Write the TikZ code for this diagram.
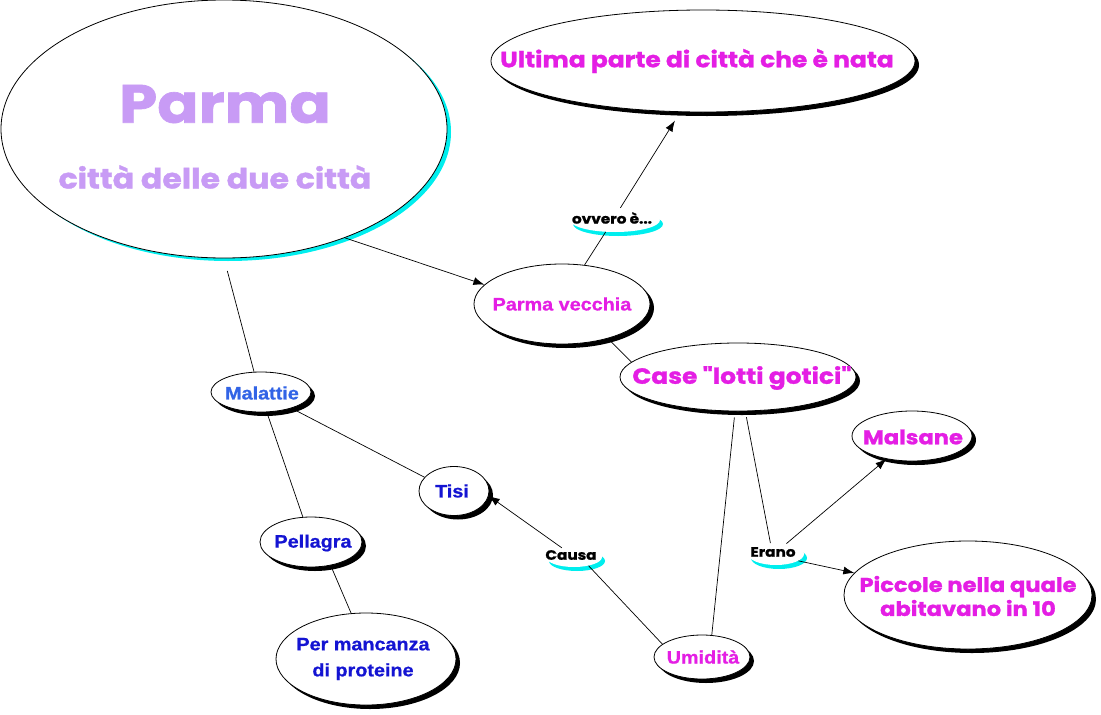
\documentclass[tikz,border=0pt]{standalone}
\usepackage{fontspec}
\setmainfont{Liberation Sans}
\newfontfamily\arialw{Liberation Sans}[FakeStretch=1.1,FakeBold=0.8]
\newfontfamily\funfont{Poppins}[FakeStretch=1.13,FakeBold=1.2]
\usetikzlibrary{shapes.geometric,arrows.meta,shadows}
\definecolor{magC}{RGB}{228,30,228}
\definecolor{lavC}{RGB}{200,155,245}
\definecolor{bluC}{RGB}{50,100,230}
\definecolor{dbluC}{RGB}{20,20,210}
\definecolor{cyC}{RGB}{0,238,238}
\tikzset{
  bub/.style={ellipse, draw=black, line width=0.8pt, fill=white, inner sep=0pt,
    drop shadow={shadow xshift=4pt,shadow yshift=-4pt,fill=black,opacity=1}},
  bigbub/.style={ellipse, draw=black, line width=0.8pt, fill=white, inner sep=0pt,
    drop shadow={shadow xshift=4pt,shadow yshift=-3pt,fill=cyC,opacity=1}},
  lnk/.style={ellipse, fill=white, inner sep=0pt,
    drop shadow={shadow xshift=3pt,shadow yshift=-4pt,fill=cyC,opacity=1}},
  funm/.style={text=magC, font=\funfont\bfseries\fontsize{22}{24}\selectfont, align=center},
  funs/.style={text=magC, font=\funfont\bfseries\fontsize{20}{24}\selectfont, align=center},
  arm/.style={text=magC, font=\arialw\bfseries\fontsize{18}{24}\selectfont, align=center},
  arb/.style={text=dbluC, font=\arialw\bfseries\fontsize{18}{26}\selectfont, align=center},
  lnktxt/.style={text=black, font=\funfont\bfseries\fontsize{13.5}{14}\selectfont},
  con/.style={line width=0.7pt},
  arr/.style={line width=0.7pt, -{Latex[length=11pt,width=8pt]}},
}
\begin{document}
\begin{tikzpicture}[x=1pt,y=-1pt]
\useasboundingbox (0,0) rectangle (1101,715);
% bubbles
\node[bigbub, minimum width=446pt, minimum height=258pt] (parma) at (224,129) {};
\node[text=lavC, font=\funfont\bfseries\fontsize{54}{56}\selectfont] (parmat) at (225,104) {Parma};
\node[text=lavC, font=\funfont\bfseries\fontsize{28}{30}\selectfont] (parmas) at (215,177) {città delle due città};

\node[bub, minimum width=424pt, minimum height=102pt] (ult) at (703,61) {};
\node[funm] (ultt) at (697,61) {Ultima parte di città che è nata};

\node[bub, minimum width=176pt, minimum height=80pt] (pv) at (562,304) {};
\node[arm] (pvt) at (562,304) {Parma vecchia};

\node[bub, minimum width=236pt, minimum height=68pt] (case) at (738,377) {};
\node[funm] (caset) at (742,378) {Case "lotti gotici"};

\node[bub, minimum width=100pt, minimum height=40pt] (mal) at (261,392) {};
\node[arm, text=bluC] (malt) at (262,393) {Malattie};

\node[bub, minimum width=70pt, minimum height=49pt] (tisi) at (454,491) {};
\node[arb] (tisit) at (452,491) {Tisi};

\node[bub, minimum width=120pt, minimum height=50pt] (mals) at (912,436) {};
\node[funs] (malst) at (913,437) {Malsane};

\node[bub, minimum width=102pt, minimum height=50pt] (pel) at (311,542) {};
\node[arb] (pelt) at (313,543) {Pellagra};

\node[bub, minimum width=248pt, minimum height=108pt] (pic) at (968,595) {};
\node[funs] (pict) at (968,596) {Piccole nella quale\\abitavano in 10};

\node[bub, minimum width=180pt, minimum height=92pt] (pmc) at (366,659) {};
\node[arb] (pmct) at (363,659) {Per mancanza\\di proteine};

\node[bub, minimum width=96pt, minimum height=44pt] (umi) at (702,657) {};
\node[arm] (umit) at (703,657) {Umidità};

% linking phrases
\node[lnk, minimum width=90pt, minimum height=24pt] (ovv) at (615,220) {};
\node[lnktxt] (ovvt) at (612,218) {ovvero è...};
\node[lnk, minimum width=56pt, minimum height=20pt] (cau) at (574,557) {};
\node[lnktxt] (caut) at (571,555) {Causa};
\node[lnk, minimum width=56pt, minimum height=22pt] (era) at (776,554) {};
\node[lnktxt] (erat) at (773,552) {Erano};

% connectors
\draw[arr] (parma.-42) -- (pv.166);
\draw[con] (pv.60) -- (ovv.232);
\draw[arr, shorten >=10pt] (ovv.66) -- (ult.246);
\draw[con, shorten <=13pt] (parma.-90) -- (mal.109);
\draw[con, shorten <=4pt] (pv.-37) -- (case.172);
\draw[con] (mal.-28) -- (tisi.155);
\draw[con] (mal.-74) -- (pel.108);
\draw[con, shorten <=3pt] (pel.-50) -- (pmc.108);
\draw[con] (umi.162) -- (cau.-31);
\draw[arr] (cau.143) -- (tisi.-8);
\draw[con, shorten <=6pt] (case.-95) -- (umi.66);
\draw[con, shorten <=6pt] (case.-78) -- (era.117);
\draw[arr] (era.45) -- (mals.222);
\draw[arr] (era.-17) -- (pic.169);
\end{tikzpicture}
\end{document}
